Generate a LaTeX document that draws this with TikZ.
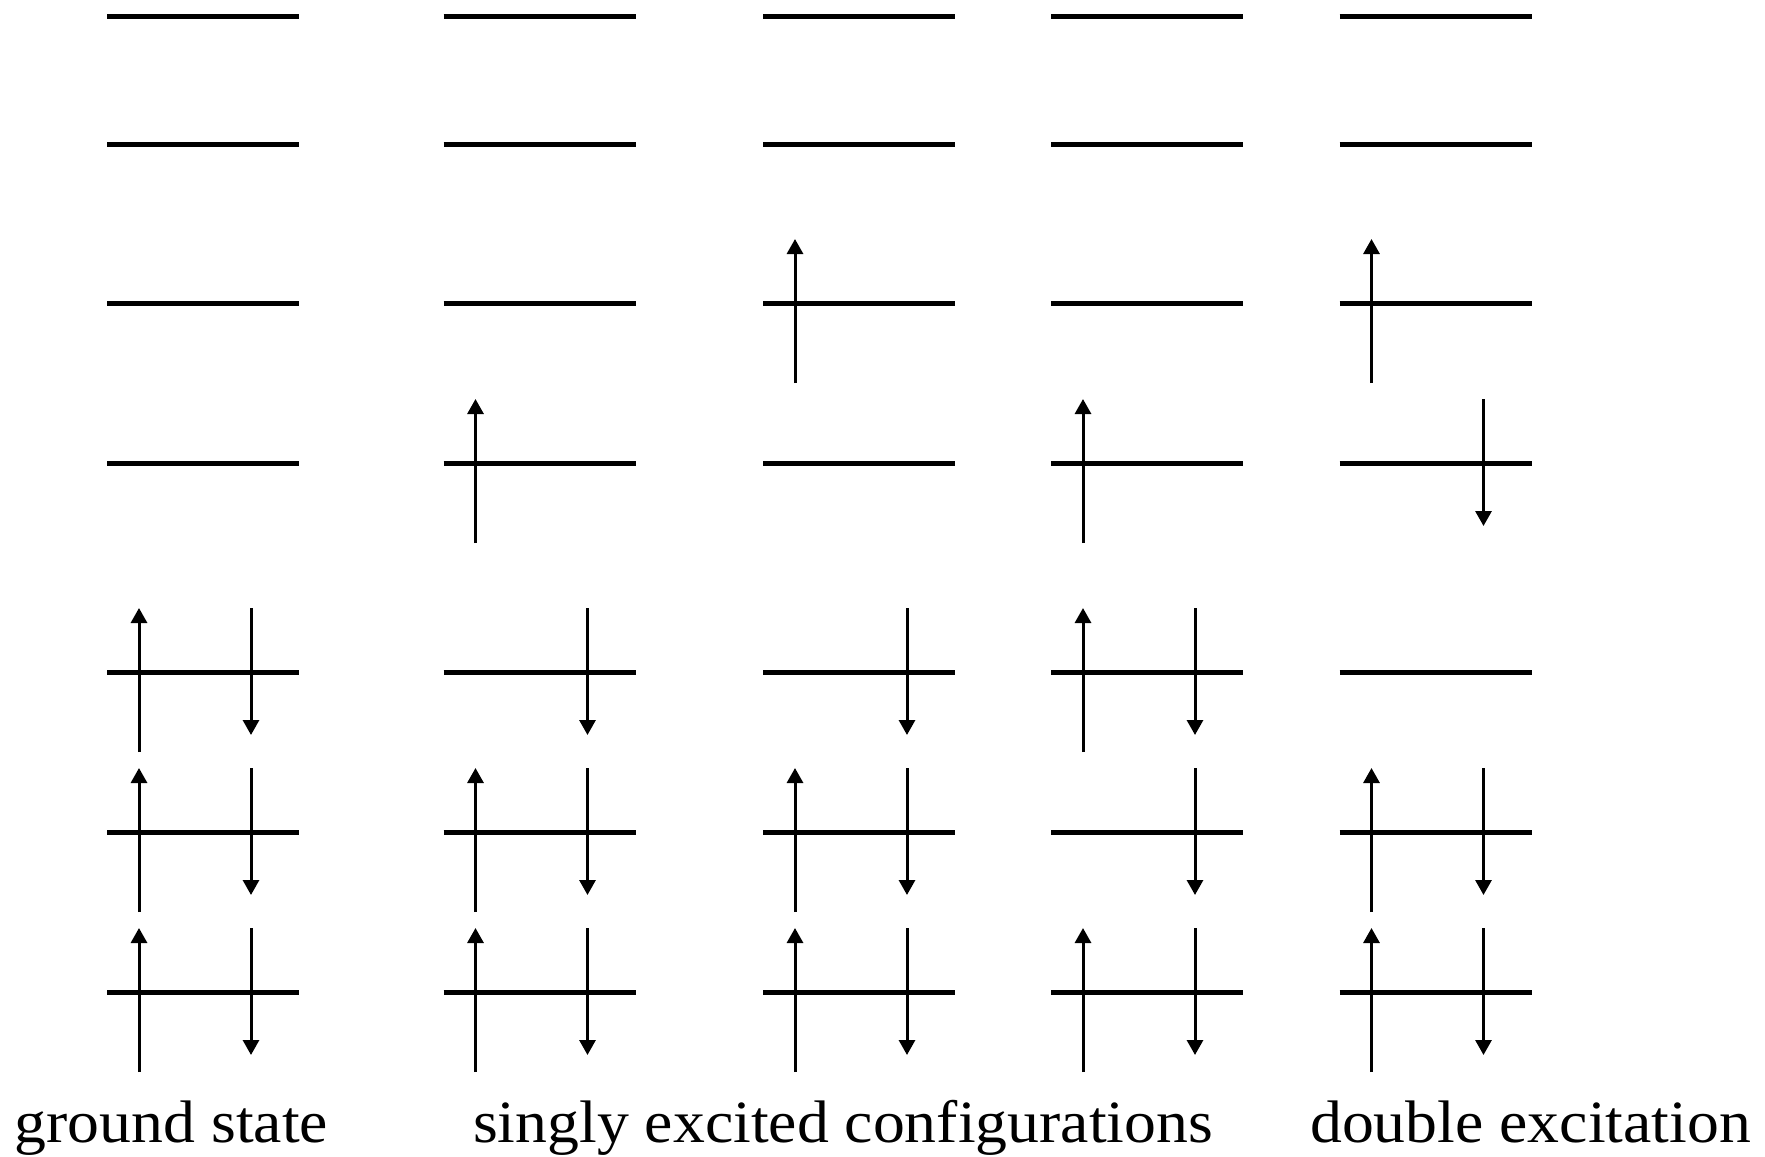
\documentclass[tikz,border=0pt]{standalone}
\usepackage{fontspec}
\setmainfont{Liberation Serif}
\usetikzlibrary{arrows.meta}
\begin{document}
\begin{tikzpicture}[x=1pt,y=-1pt,
  level/.style={line width=5pt},
  spin/.style={line width=3pt,-{Triangle[width=16pt,length=15pt]}},
  lbl/.style={font=\fontsize{60}{72}\selectfont,anchor=base,inner sep=0pt,xscale=1.062}]
\useasboundingbox (0,0) rectangle (1765,1157);
\foreach \c/\x in {1/107,2/443.5,3/763,4/1051,5/1339.5}{
  \foreach \r/\y in {1/16,2/144,3/303,4/463,5/672,6/832,7/992}{
    \coordinate (L\c\r) at (\x,\y);
    \draw[level] (L\c\r) -- ++(192,0);
  }
}
% spin up
\foreach \p in {15,16,17,24,26,27,33,36,37,44,45,47,53,56,57}{
  \draw[spin] ([shift={(32,80)}]L\p) -- ([shift={(32,-64)}]L\p);
}
% spin down
\foreach \p in {15,16,17,25,26,27,35,36,37,45,46,47,54,56,57}{
  \draw[spin] ([shift={(144,-64)}]L\p) -- ([shift={(144,63)}]L\p);
}
\node[lbl] (gs) at (171.5,1142) {ground state};
\node[lbl] (se) at (843,1142) {singly excited configurations};
\node[lbl] (de) at (1530.5,1142) {double excitation};
\end{tikzpicture}
\end{document}
